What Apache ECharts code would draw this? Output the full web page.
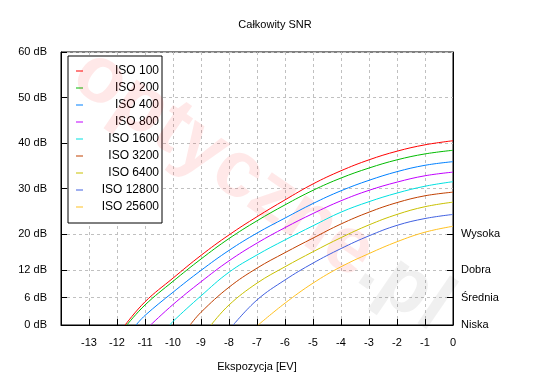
<!DOCTYPE html>
<html><head><meta charset="utf-8">
<script src="https://cdn.jsdelivr.net/npm/echarts@6/dist/echarts.min.js"></script>
<style>html,body{margin:0;padding:0;background:#fff}#c{width:550px;height:380px}</style>
</head><body><div id="c"></div>
<script>
// ---- data (EV, dB) ----
const seriesNames = ['ISO 100','ISO 200','ISO 400','ISO 800','ISO 1600','ISO 3200','ISO 6400','ISO 12800','ISO 25600'];
const iso100   = [[-11.71,0],[-11,5.1],[-10,10.3],[-9,15.3],[-8,19.8],[-7,23.8],[-6,27.5],[-5,31.0],[-4,33.9],[-3,36.3],[-2,38.2],[-1,39.6],[0,40.5]];
const iso200   = [[-11.65,0],[-11,4.4],[-10,9.6],[-9,14.5],[-8,19.0],[-7,22.9],[-6,26.4],[-5,29.6],[-4,32.3],[-3,34.5],[-2,36.3],[-1,37.6],[0,38.4]];
const iso400   = [[-11.32,0],[-11,2.1],[-10,7.2],[-9,12.0],[-8,16.4],[-7,20.2],[-6,23.5],[-5,26.7],[-4,29.5],[-3,31.8],[-2,33.7],[-1,35.1],[0,35.9]];
const iso800   = [[-10.80,0],[-10,4.5],[-9,9.5],[-8,14.1],[-7,18.0],[-6,21.4],[-5,24.5],[-4,27.3],[-3,29.6],[-2,31.4],[-1,32.8],[0,33.6]];
const iso1600  = [[-10.11,0],[-10,0.8],[-9,6.4],[-8,11.6],[-7,15.4],[-6,18.7],[-5,21.8],[-4,24.8],[-3,27.1],[-2,29.0],[-1,30.5],[0,31.5]];
const iso3200  = [[-9.39,0],[-9,2.8],[-8,8.3],[-7,12.5],[-6,15.9],[-5,19.1],[-4,22.2],[-3,24.8],[-2,26.9],[-1,28.4],[0,29.2]];
const iso6400  = [[-8.64,0],[-8,4.4],[-7,9.2],[-6,12.8],[-5,16.1],[-4,19.2],[-3,22.0],[-2,24.3],[-1,26.0],[0,27.0]];
const iso12800 = [[-7.85,0],[-7,5.5],[-6,9.9],[-5,13.6],[-4,16.8],[-3,19.6],[-2,21.9],[-1,23.4],[0,24.3]];
const iso25600 = [[-6.96,0],[-6,4.8],[-5,9.2],[-4,12.8],[-3,15.7],[-2,18.3],[-1,20.4],[0,21.7]];
const seriesData = [iso100, iso200, iso400, iso800, iso1600, iso3200, iso6400, iso12800, iso25600];
const seriesColors = ['#ff0000','#00bb00','#0080ff','#c000ff','#00e0e0','#c04000','#c8c000','#4060e0','#ffc020'];

const xTicks = [-14,-13,-12,-11,-10,-9,-8,-7,-6,-5,-4,-3,-2,-1,0];
const yTicks = [0,6,12,20,30,40,50,60];
const rightTicks = [0,6,12,20];
const rightLabels = ['Niska','Średnia','Dobra','Wysoka'];
const titleText = 'Całkowity SNR';
const xName = 'Ekspozycja [EV]';

const FONT = '"Liberation Sans", Arial, sans-serif';
const chart = echarts.init(document.getElementById('c'), null, {renderer:'canvas'});
const gridLine = {show:true, lineStyle:{color:'#c0c0c0', type:[3,3], width:1}};
chart.setOption({
  animation:false,
  backgroundColor:'#fff',
  textStyle:{fontFamily:FONT},
  title:{text:titleText, left:'center', top:14, textStyle:{fontFamily:FONT, fontSize:11, fontWeight:'normal', color:'#000'}},
  grid:{left:61, right:97, top:52, bottom:55, show:true, borderColor:'#000', borderWidth:1, containLabel:false},
  legend:{
    orient:'vertical', left:68, top:56, padding:[9,3,10,8],
    borderColor:'#000', borderWidth:1, backgroundColor:'#fff', borderRadius:0,
    itemWidth:7, itemHeight:1, itemGap:5, icon:'rect', z:4,
    formatter:'{r|{name}}',
    textStyle:{fontFamily:FONT, fontSize:12, color:'#000', lineHeight:12,
      rich:{r:{width:71, align:'right', fontFamily:FONT, fontSize:12, color:'#000', lineHeight:12}}},
    data:seriesNames
  },
  graphic:[{
    type:'text', x:262, y:190, rotation:-0.6, z:5, silent:true,
    style:{
      text:'{a|optyczne}{b|.pl}', align:'center', verticalAlign:'middle',
      rich:{
        a:{fontFamily:FONT, fontSize:80, fontWeight:'bold', fill:'rgba(255,0,0,0.09)'},
        b:{fontFamily:FONT, fontSize:80, fontWeight:'bold', fill:'rgba(0,0,0,0.06)'}
      }
    }
  }],
  xAxis:{
    type:'value', min:-14, max:0, interval:1,
    name:xName, nameLocation:'middle', nameGap:36,
    nameTextStyle:{fontFamily:FONT, fontSize:11, color:'#000'},
    axisLine:{show:true, onZero:false, lineStyle:{color:'#000', width:1}},
    axisTick:{show:true, inside:true, length:6, lineStyle:{color:'#000'}},
    axisLabel:{color:'#000', fontFamily:FONT, fontSize:11, margin:12,
      formatter:v => (v === xTicks[0] ? '' : String(v))},
    splitLine:gridLine
  },
  yAxis:[{
    type:'value', min:0, max:60, position:'left',
    axisLine:{show:true, onZero:false, lineStyle:{color:'#000', width:1}},
    axisTick:{show:true, inside:true, length:6, lineStyle:{color:'#000'}, customValues:yTicks},
    axisLabel:{color:'#000', fontFamily:FONT, fontSize:11, margin:14, customValues:yTicks,
      formatter:v => v + ' dB'},
    splitLine:gridLine
  },{
    type:'value', min:0, max:60, position:'right',
    axisLine:{show:true, onZero:false, lineStyle:{color:'#000', width:1}},
    axisTick:{show:true, inside:true, length:6, lineStyle:{color:'#000'}, customValues:rightTicks},
    axisLabel:{color:'#000', fontFamily:FONT, fontSize:11, margin:8, customValues:rightTicks,
      formatter:v => rightLabels[rightTicks.indexOf(v)]},
    splitLine:{show:false}
  }],
  series:seriesData.map((d,i)=>({
    name:seriesNames[i], type:'line', data:d, smooth:0.4, showSymbol:false, z:6,
    yAxisIndex:0, color:seriesColors[i], lineStyle:{width:1, color:seriesColors[i]},
    itemStyle:{color:seriesColors[i]}
  }))
});
</script></body></html>
